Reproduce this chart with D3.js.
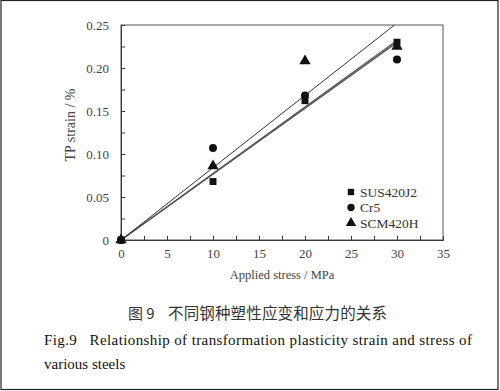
<!DOCTYPE html>
<html><head><meta charset="utf-8">
<script src="https://cdn.jsdelivr.net/npm/d3@7"></script>
<style>body{margin:0;background:#fff}svg{display:block}</style>
</head><body>
<svg id="c" width="500" height="391"></svg>
<script>
const series = ["SUS420J2", "Cr5", "SCM420H"];
const stress = [0, 10, 20, 30];
const sus420j2 = [0, 0.068, 0.162, 0.230];
const cr5 = [0, 0.107, 0.168, 0.210];
const scm420h = [0, 0.086, 0.208, 0.225];
const fitSlopes = [0.00773, 0.00766, 0.00841];
const xTicks = [0, 5, 10, 15, 20, 25, 30, 35];
const yTicks = [0, 0.05, 0.10, 0.15, 0.20, 0.25];
const yTickLabels = ["0", "0.05", "0.10", "0.15", "0.20", "0.25"];

const svg = d3.select("#c");
const L = 121, R = 443, T = 25, B = 240;
const x = d3.scaleLinear().domain([0, 35]).range([L, R]);
const y = d3.scaleLinear().domain([0, 0.25]).range([B, T]);
const ink = "#3a3a3a";

// outer border
svg.append("rect").attr("x", 1).attr("y", 0.5).attr("width", 497).attr("height", 389)
  .attr("fill", "none").attr("stroke", "#222").attr("stroke-width", 1.2);

// plot frame
svg.append("rect").attr("x", L).attr("y", T).attr("width", R - L).attr("height", B - T)
  .attr("fill", "none").attr("stroke", "#555").attr("stroke-width", 1);

// axes (ticks inward)
const xAxis = d3.axisBottom(x).tickValues(d3.range(0, 35.01, 2.5)).tickSize(-4)
  .tickFormat(d => xTicks.includes(d) ? d : "");
const gx = svg.append("g").attr("transform", `translate(0,${B})`).call(xAxis);
gx.select(".domain").attr("stroke", ink);
gx.selectAll(".tick line").attr("stroke", ink).attr("stroke-width", 1);
gx.selectAll(".tick text").attr("dy", "0.85em").attr("y", 7)
  .attr("font-family", "Liberation Serif").attr("font-size", 13).attr("fill", "#444");

const yAxis = d3.axisLeft(y).tickValues(d3.range(0, 0.2501, 0.025)).tickSize(-4)
  .tickFormat(d => { const i = yTicks.findIndex(v => Math.abs(v - d) < 1e-9); return i >= 0 ? yTickLabels[i] : ""; });
const gy = svg.append("g").attr("transform", `translate(${L},0)`).call(yAxis);
gy.select(".domain").attr("stroke", ink);
gy.selectAll(".tick line").attr("stroke", ink);
gy.selectAll(".tick text").attr("x", -12)
  .attr("font-family", "Liberation Serif").attr("font-size", 13).attr("fill", "#444");

// clip
svg.append("clipPath").attr("id", "pc").append("rect")
  .attr("x", L).attr("y", T).attr("width", R - L).attr("height", B - T);

// fit lines
const line = d3.line().x(d => x(d[0])).y(d => y(d[1]));
fitSlopes.forEach((k, i) => {
  svg.append("path").attr("clip-path", "url(#pc)")
    .attr("d", line([[0, 0], [30, 30 * k]]))
    .attr("fill", "none").attr("stroke", i === 2 ? "#333" : "#555").attr("stroke-width", i === 2 ? 1 : 1.3);
});

// markers
const sym = [d3.symbolSquare, d3.symbolCircle, d3.symbolTriangle];
const sizes = [48, 50, 55];
const data = [sus420j2, cr5, scm420h];
data.forEach((vals, i) => {
  svg.append("g").selectAll("path").data(vals).join("path")
    .attr("d", d3.symbol().type(sym[i]).size(sizes[i]))
    .attr("transform", (d, j) => `translate(${x(stress[j])},${y(d)})`)
    .attr("fill", "#111");
});

// legend
series.forEach((s, i) => {
  const ly = 192 + i * 15.5;
  svg.append("path").attr("d", d3.symbol().type(sym[i]).size(sizes[i] * 0.85)())
    .attr("transform", `translate(351,${ly})`).attr("fill", "#111");
  svg.append("text").attr("x", 360).attr("y", ly + 4.5).text(s)
    .attr("font-family", "Liberation Serif").attr("font-size", 13.5).attr("fill", "#333");
});

// axis titles
svg.append("text").attr("x", 282).attr("y", 279).attr("text-anchor", "middle")
  .attr("font-family", "Liberation Serif").attr("font-size", 12.5).attr("fill", "#444")
  .text("Applied stress / MPa");
svg.append("text").attr("transform", "translate(75,125) rotate(-90)").attr("text-anchor", "middle")
  .attr("font-family", "Liberation Serif").attr("font-size", 14).attr("fill", "#444")
  .text("TP strain / %");

// captions
svg.append("text").attr("x", 128).attr("y", 319)
  .attr("font-family", "Noto Sans CJK SC").attr("font-size", 15).attr("fill", "#333")
  .text("图 9");
svg.append("text").attr("x", 168).attr("y", 319)
  .attr("font-family", "Noto Sans CJK SC").attr("font-size", 15.5).attr("fill", "#333")
  .attr("textLength", 219).attr("lengthAdjust", "spacing")
  .text("不同钢种塑性应变和应力的关系");
svg.append("text").attr("x", 44).attr("y", 345)
  .attr("font-family", "Liberation Serif").attr("font-size", 15).attr("fill", "#111")
  .attr("xml:space", "preserve").attr("textLength", 428).attr("lengthAdjust", "spacing")
  .text("Fig.9   Relationship of transformation plasticity strain and stress of");
svg.append("text").attr("x", 44).attr("y", 369)
  .attr("font-family", "Liberation Serif").attr("font-size", 15).attr("fill", "#111")
  .text("various steels");
</script>
</body></html>
